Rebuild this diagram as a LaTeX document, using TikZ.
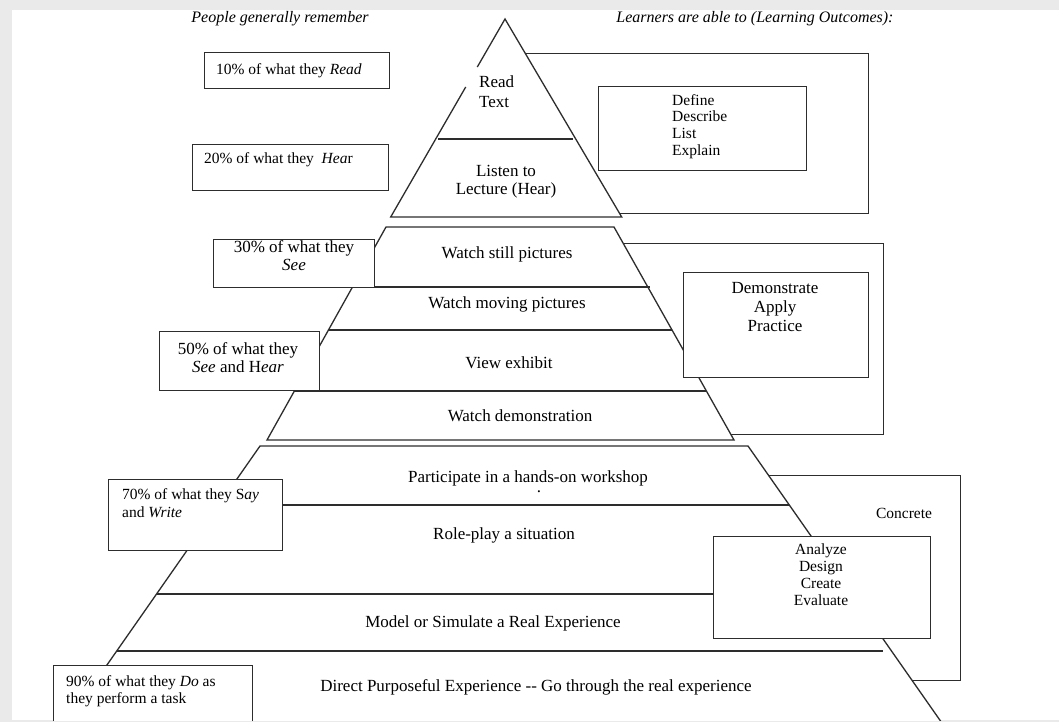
\documentclass[tikz,border=0pt]{standalone}
\usepackage{fontspec}
\setmainfont{Liberation Serif}
\definecolor{framegray}{RGB}{234,234,234}
\definecolor{linegray}{RGB}{45,45,45}
\begin{document}
\begin{tikzpicture}[x=1pt,y=-1pt,
  ln/.style={draw=linegray, line width=1.3pt},
  tier/.style={ln, fill=white, line join=miter},
  bx/.style={draw=linegray, line width=1.3pt, fill=white, inner sep=0pt, anchor=north west},
  obx/.style={draw=linegray, line width=1.3pt, inner sep=0pt, anchor=north west},
  txt/.style={font=\fontsize{17}{18}\selectfont, inner sep=0pt},
  stxt/.style={font=\fontsize{15.5}{17}\selectfont, inner sep=0pt},
  ttl/.style={font=\fontsize{16}{18}\selectfont\itshape, inner sep=0pt, anchor=base},
]
\useasboundingbox (0,0) rectangle (1059,722);
\fill[framegray] (0,0) rectangle (1059,722);
\fill[white] (12,10) rectangle (1059,720);
\begin{scope}
\clip (12,10) rectangle (1059,720);

% titles
\node[ttl] (tPeople) at (280,23) {People generally remember};
\node[ttl] (tLearn) at (755,23) {Learners are able to (Learning Outcomes):};

% outer bracket boxes (partly hidden behind the pyramid)
\node[obx, minimum width=368, minimum height=160] (ob1) at (500,53) {};
\node[obx, minimum width=383, minimum height=191] (ob2) at (500,243) {};
\node[obx, minimum width=360, minimum height=205] (ob3) at (600,475) {};

% top triangle
\fill[white] (505,19) -- (621.7,217) -- (390.7,217) -- cycle;
\draw[ln, line join=miter] (477.3,67) -- (505,19) -- (621.7,217) -- (390.7,217) -- (465.7,87);
\draw[ln] (438,139) -- (573,139);

% middle tier
\draw[tier] (386,227) -- (614,227) -- (734,440) -- (267,440) -- cycle;
\draw[ln] (352.5,287) -- (650,287);
\draw[ln] (328.5,330) -- (672,330);
\draw[ln] (294.4,391) -- (706.4,391);

% bottom tier
\draw[tier] (260,446) -- (748,446) -- (946.8,730) -- (61.5,730) -- cycle;
\draw[ln] (218.8,505) -- (789.3,505);
\draw[ln] (156.5,594) -- (852,594);
\draw[ln] (116.7,651) -- (883,651);

% outcome boxes
\node[bx, minimum width=208, minimum height=84] (ib1) at (598,86) {};
\node[bx, minimum width=185, minimum height=105] (ib2) at (683,272) {};
\node[bx, minimum width=217, minimum height=102] (ib3) at (713,536) {};

% percentage boxes
\node[bx, minimum width=185, minimum height=36] (b10) at (204,52) {};
\node[bx, minimum width=196, minimum height=46] (b20) at (192,144) {};
\node[bx, minimum width=161, minimum height=48] (b30) at (213,239) {};
\node[bx, minimum width=160, minimum height=59] (b50) at (159,331) {};
\node[bx, minimum width=174, minimum height=71] (b70) at (108,479) {};
\node[bx, minimum width=199, minimum height=70] (b90) at (53,665) {};

% texts in percentage boxes
\node[stxt, anchor=base west] (t10) at (216,75) {10\% of what they \textit{Read}};
\node[stxt, anchor=base west] (t20) at (204,164) {20\% of what they\ \ \textit{Hea}r};
\node[txt, anchor=north, align=center, font=\fontsize{17}{18.5}\selectfont] (t30) at (294,240) {30\% of what they\\\textit{See}};
\node[txt, anchor=north, align=center, font=\fontsize{17}{18}\selectfont] (t50) at (238,342) {50\% of what they\\\textit{See} and H\textit{ear}};
\node[stxt, anchor=north west, align=left, font=\fontsize{15.5}{18}\selectfont] (t70) at (122,488) {70\% of what they S\textit{ay}\\and \textit{Write}};
\node[stxt, anchor=north west, align=left, font=\fontsize{15.5}{17.5}\selectfont] (t90) at (66,675) {90\% of what they \textit{Do} as\\they perform a task};

% texts in pyramid
\node[txt, anchor=north west, align=left, font=\fontsize{17}{20}\selectfont] (tRead) at (479,76) {Read\\Text};
\node[txt, anchor=north, align=center, font=\fontsize{17}{18}\selectfont] (tListen) at (506,165) {Listen to\\Lecture (Hear)};
\node[txt, anchor=base] (tStill) at (507,258) {Watch still pictures};
\node[txt, anchor=base] (tMoving) at (507,308) {Watch moving pictures};
\node[txt, anchor=base] (tView) at (509,368) {View exhibit};
\node[txt, anchor=base] (tDemo) at (520,421) {Watch demonstration};
\node[txt, anchor=base] (tPart) at (528,482) {Participate in a hands-on workshop};
\node[txt, anchor=base] (tDot) at (539,492) {.};
\node[txt, anchor=base] (tRole) at (504,539) {Role-play a situation};
\node[txt, anchor=base] (tModel) at (493,627) {Model or Simulate a Real Experience};
\node[txt, anchor=base] (tDirect) at (536,691) {Direct Purposeful Experience -{}- Go through the real experience};

% outcome texts
\node[stxt, anchor=north west, align=left, font=\fontsize{15.5}{16.7}\selectfont] (tDefine) at (672,94) {Define\\Describe\\List\\Explain};
\node[txt, anchor=north, align=center, font=\fontsize{17}{19}\selectfont] (tDemonstrate) at (775,282) {Demonstrate\\Apply\\Practice};
\node[stxt, anchor=north, align=center, font=\fontsize{15.5}{17}\selectfont] (tAnalyze) at (821,544) {Analyze\\Design\\Create\\Evaluate};
\node[stxt, anchor=base] (tConcrete) at (904,518) {Concrete};
\end{scope}
\end{tikzpicture}
\end{document}
